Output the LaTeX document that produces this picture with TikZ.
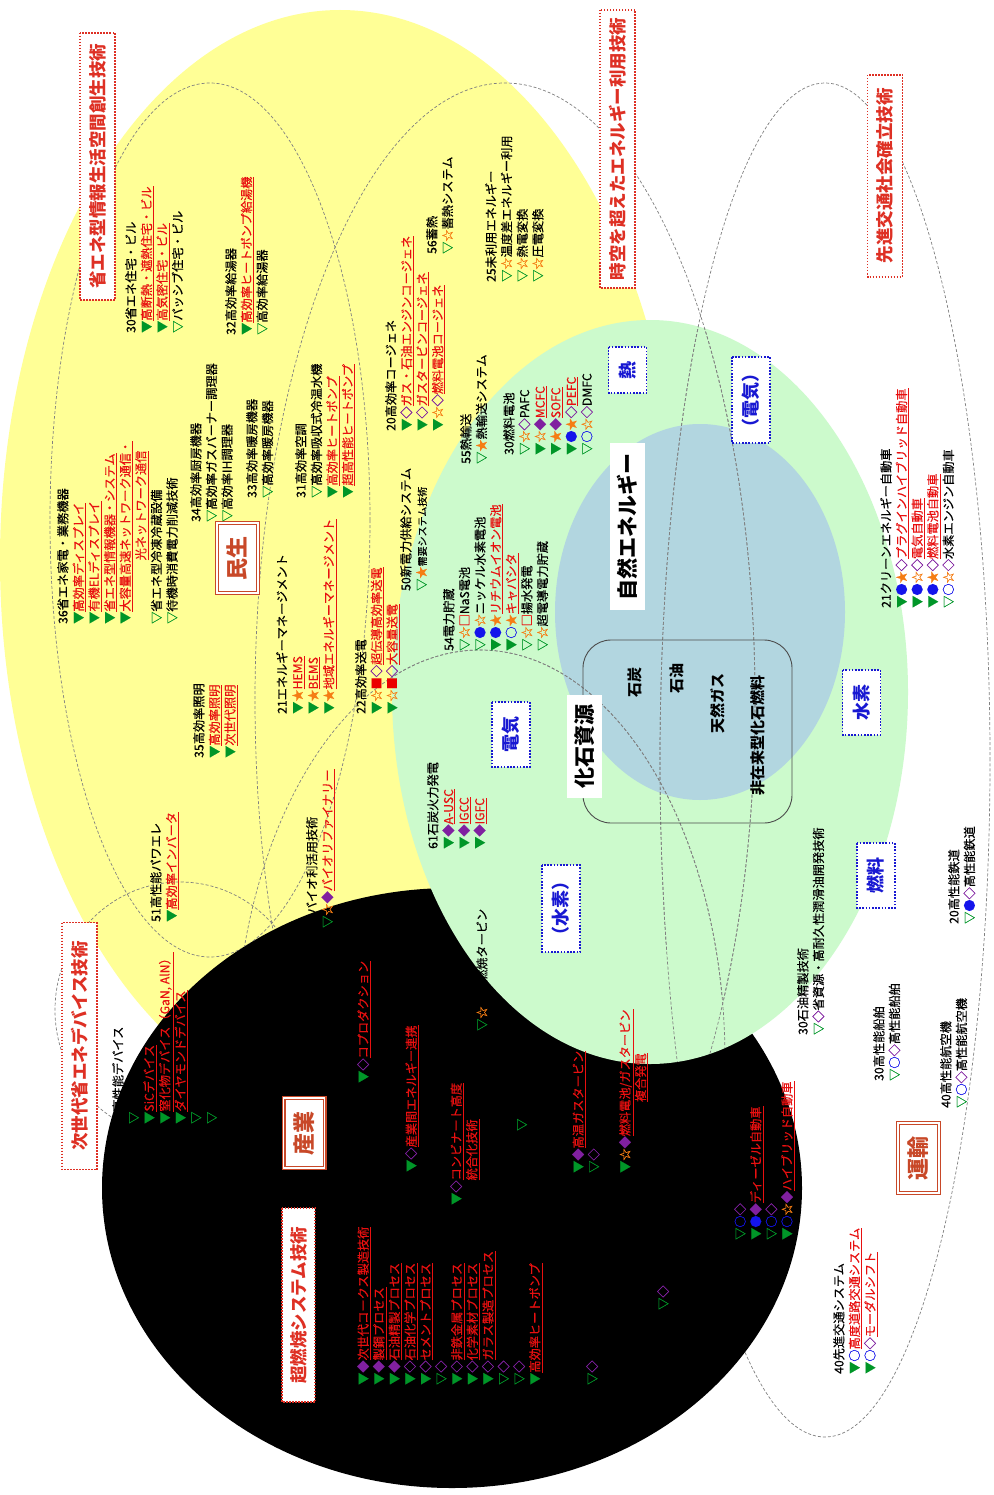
\documentclass[tikz,border=0pt]{standalone}
\usepackage{fontspec}
\setmainfont{Noto Sans CJK JP}[UprightFeatures={FakeBold=0.35}]
\definecolor{yellowbg}{RGB}{255,255,150}
\definecolor{greenbg}{RGB}{204,250,204}
\definecolor{bluebg}{RGB}{178,214,224}
\definecolor{symgreen}{RGB}{0,150,40}
\definecolor{sympurple}{RGB}{128,32,160}
\definecolor{symorange}{RGB}{245,125,20}
\definecolor{symblue}{RGB}{20,20,235}
\definecolor{symred}{RGB}{235,0,0}
\definecolor{itemred}{RGB}{232,16,16}
\definecolor{titlered}{RGB}{222,48,36}
\definecolor{secred}{RGB}{200,72,40}
\definecolor{boxblue}{RGB}{24,24,210}
\newcommand{\gA}{\textcolor{symgreen}{▼}}
\newcommand{\gV}{\textcolor{symgreen}{▽}}
\newcommand{\pA}{\textcolor{sympurple}{◆}}
\newcommand{\pV}{\textcolor{sympurple}{◇}}
\newcommand{\oA}{\textcolor{symorange}{★}}
\newcommand{\oV}{\textcolor{symorange}{☆}}
\newcommand{\bA}{\textcolor{symblue}{●}}
\newcommand{\bV}{\textcolor{symblue}{○}}
\newcommand{\rA}{\textcolor{symred}{■}}
\newcommand{\rV}{\textcolor{symred}{□}}
\newcommand{\rt}[1]{\textcolor{itemred}{\underline{#1}}}
\newcommand{\drawzones}{%
  \foreach \cx/\cy/\rx/\ry in {210/520/160/437, 505/700/250/617, 825/760/165/677,
                               180/1010/125/128, 480/1060/245/410}
    \draw[zone] (\cx,\cy) ellipse [x radius=\rx pt, y radius=\ry pt];}

\begin{document}
\begin{tikzpicture}[x=1pt, y=-1pt,
  grp/.style={rotate=90, anchor=north west, align=left, inner sep=0pt,
              font=\fontsize{12.2}{15.6}\selectfont},
  ttl/.style={rotate=90, draw=titlered, line width=1.5pt, dash pattern=on 1.5pt off 1.5pt,
              fill=white, text=titlered, inner sep=0pt, font=\fontsize{17.5}{17.5}\selectfont\bfseries},
  sec/.style={rotate=90, draw=secred, double=white, double distance=1.6pt, line width=1.2pt,
              fill=white, text=secred, minimum width=70pt, minimum height=41pt,
              font=\fontsize{22}{22}\selectfont\bfseries},
  kind/.style={rotate=90, draw=boxblue, line width=1.8pt, dash pattern=on 1.6pt off 1.6pt,
              fill=white, text=boxblue, minimum height=38pt, minimum width=65pt,
              font=\fontsize{18}{18}\selectfont\bfseries},
  core/.style={rotate=90, fill=white, minimum height=35pt, font=\fontsize{21}{21}\selectfont\bfseries},
  fuel/.style={rotate=90, inner sep=1pt, font=\fontsize{15}{15}\selectfont\bfseries},
  zone/.style={draw=black!50, line width=0.7pt, dash pattern=on 3pt off 2pt}
]
  \useasboundingbox (0,0) rectangle (993,1495);
  \clip (0,0) rectangle (993,1495);
  \fill[white] (0,0) rectangle (993,1495);
  \fill[yellowbg] (340,560) ellipse [x radius=340pt, y radius=550pt];
  \fill[black] (452,1188) ellipse [x radius=350pt, y radius=300pt];
  \fill[greenbg] (650,692) ellipse [x radius=258pt, y radius=372pt];
  \fill[bluebg] (700,612) ellipse [x radius=145pt, y radius=188pt];

  \begin{scope}
    \clip (650,692) ellipse [x radius=258pt, y radius=372pt];
    \drawzones
  \end{scope}
  \begin{scope}[even odd rule]
    \clip (0,0) rectangle (993,1495) (452,1188) ellipse [x radius=350pt, y radius=300pt];
    \drawzones
  \end{scope}

  \node[draw=black!70, line width=0.9pt, rounded corners=28pt, minimum width=209pt,
        minimum height=183pt] (fossilbox) at (687.5,731.5) {};

  \node[ttl, minimum width=267pt, minimum height=35pt] (tLife) at (97.5,166.5) {省エネ型情報生活空間創生技術};
  \node[ttl, minimum width=278pt, minimum height=35pt] (tHeat) at (617.5,149) {時空を超えたエネルギー利用技術};
  \node[ttl, minimum width=202pt, minimum height=35pt] (tTraffic) at (885,176) {先進交通社会確立技術};
  \node[ttl, minimum width=247pt, minimum height=35pt] (tDevice) at (79.5,1046) {次世代省エネデバイス技術};
  \node[ttl, minimum width=194pt, minimum height=33pt] (tCombust) at (298.5,1305) {超燃焼システム技術};

  \node[sec] (minsei) at (237.5,558) {民生};
  \node[sec] (sangyo) at (304,1133) {産業};
  \node[sec] (unyu) at (918.5,1158) {運輸};

  \node[kind, minimum width=46pt] (kHeat) at (627.5,370) {熱};
  \node[kind, minimum width=86pt] (kElec2) at (751,400) {（電気）};
  \node[kind] (kElec) at (511,734.5) {電気};
  \node[kind, minimum width=87pt] (kHyd2) at (561,908.5) {（水素）};
  \node[kind] (kHyd) at (861.5,702.5) {水素};
  \node[kind] (kFuel) at (876,875.5) {燃料};

  \node[core, minimum width=167pt] (natural) at (627.5,526.5) {自然エネルギー};
  \node[core, minimum width=103pt] (fossil) at (584.5,746.5) {化石資源};
  \node[fuel] (coal) at (635,682) {石炭};
  \node[fuel] (oil) at (677,678) {石油};
  \node[fuel] (gas) at (718,703) {天然ガス};
  \node[fuel] (unconv) at (758,735) {非在来型化石燃料};

  \node[grp] (g30bldg) at (125,333) {30省エネ住宅・ビル\\ \gA\rt{高断熱・遮熱住宅・ビル}\\
    \gA\rt{高気密住宅・ビル}\\ \gV パッシブ住宅・ビル};
  \node[grp] (g32) at (225,335) {32高効率給湯器\\ \gA\rt{高効率ヒートポンプ給湯機}\\ \gV 高効率給湯器};
  \node[grp] (g34) at (190,522) {34高効率厨房機器\\ \gV 高効率ガスバーナー調理器\\ \gV 高効率IH調理器};
  \node[grp] (g33) at (246,498) {33高効率暖房機器\\ \gV 高効率暖房機器};
  \node[grp] (g31) at (295,498) {31高効率空調\\ \gV 高効率吸収式冷温水機\\
    \gA\rt{高効率ヒートポンプ}\\ \gA\rt{超高性能ヒートポンプ}};
  \node[grp] (g36) at (57,624) {36省エネ家電・業務機器\\ \gA\rt{高効率ディスプレイ}\\
    \gA\rt{有機ELディスプレイ}\\ \gA\rt{省エネ型情報機器・システム}\\
    \gA\rt{大容量高速ネットワーク通信・}\\ \hspace*{5.2em}\rt{光ネットワーク通信}\\
    \gV 省エネ型冷凍冷蔵設備\\ \gV 待機時消費電力削減技術};
  \node[grp] (g35) at (193,758) {35高効率照明\\ \gA\rt{高効率照明}\\ \gA\rt{次世代照明}};
  \node[grp] (g21em) at (276,714) {21エネルギーマネージメント\\ \gA\oA\rt{HEMS}\\
    \gA\oA\rt{BEMS}\\ \gA\oA\rt{地域エネルギーマネージメント}};
  \node[grp] (g51) at (150,922) {51高性能パワエレ\\ \gA\rt{高効率インバータ}};
  \node[grp] (g70) at (306,928) {70バイオ利活用技術\\ \gV\oV\pA\rt{バイオリファイナリー}};
  \node[grp] (g22) at (355,714) {22高効率送電\\ \gA\oV\rA\pV\rt{超伝導高効率送電}\\
    \gA\oV\rA\pV\rt{大容量送電}};
  \node[grp] (g50) at (400,591) {50新電力供給システム\\
    \gV\oA{\fontsize{10}{12}\selectfont 需要システム技術}};
  \node[grp] (g20) at (385,431) {20高効率コージェネ\\ \gA\pV\rt{ガス・石油エンジンコージェネ}\\
    \gA\pV\rt{ガスタービンコージェネ}\\ \gA\oV\pV\rt{燃料電池コージェネ}};
  \node[grp] (g56) at (426,254) {56蓄熱\\ \gV\oV 蓄熱システム};
  \node[grp] (g25) at (485,282) {25未利用エネルギー\\ \gV\oV 温度差エネルギー利用\\
    \gV\oV 熱電変換\\ \gV\oV 圧電変換};
  \node[grp] (g55) at (460,464) {55熱輸送\\ \gV\oA 熱輸送システム};
  \node[grp] (g30fc) at (503,455) {30燃料電池\\ \gV\oV\pV PAFC\\ \gA\oV\pA\rt{MCFC}\\
    \gA\oA\pA\rt{SOFC}\\ \gA\bA\oA\pV\rt{PEFC}\\ \gV\bV\oV\pV DMFC};
  \node[grp] (g54) at (443,651) {54電力貯蔵\\ \gV\oV\rV NaS電池\\ \gV\bA\oV ニッケル水素電池\\
    \gA\bA\oA\rt{リチウムイオン電池}\\ \gA\bV\oA\rt{キャパシタ}\\ \gV\oV\rV 揚水発電\\
    \gV\oV 超電導電力貯蔵};
  \node[grp] (g61) at (427,849) {61石炭火力発電\\ \gA\pA\rt{A-USC}\\ \gA\pA\rt{IGCC}\\ \gA\pA\rt{IGFC}};
  \node[grp] (g21car) at (880,608) {21クリーンエネルギー自動車\\
    \gA\bA\oA\pV\rt{プラグインハイブリッド自動車}\\ \gA\bA\oV\pV\rt{電気自動車}\\
    \gA\bA\oA\pV\rt{燃料電池自動車}\\ \gV\bV\oV\pV 水素エンジン自動車};
  \node[grp] (g30oil) at (797,1035) {30石油精製技術\\ \gV\pV 省資源・高耐久性潤滑油開発技術};
  \node[grp] (g30ship) at (873,1081) {30高性能船舶\\ \gV\bV\pV 高性能船舶};
  \node[grp] (g40air) at (940,1108) {40高性能航空機\\ \gV\bV\pV 高性能航空機};
  \node[grp] (g20rail) at (948,924) {20高性能鉄道\\ \gV\bA\pV 高性能鉄道};
  \node[grp] (g40its) at (833,1374) {40先進交通システム\\ \gA\bV\rt{高度道路交通システム}\\
    \gA\bV\pV\rt{モーダルシフト}};

  \node[grp] (gdev) at (112,1124) {\hspace*{1em}高性能デバイス\\ \gV\\ \gA\rt{SiCデバイス}\\
    \gA\rt{窒化物デバイス（GaN, AlN）}\\ \gA\rt{ダイヤモンドデバイス}\\ \gV\\ \gV};
  \node[grp] (gcoprod) at (357,1083) {\gA\pV\rt{コプロダクション}};
  \node[grp] (glink) at (405,1172) {\gA\pV\rt{産業間エネルギー連携}};
  \node[grp] (gcomb) at (450,1205) {\gA\pV\rt{コンビナート高度}\\ \hspace*{2em}\rt{統合化技術}};
  \node[grp] (gmark1) at (517,1131) {\gV};
  \node[grp] (gturb) at (476,1031) {\gV\oV 水素燃焼タービン};
  \node[grp] (ggt) at (572,1173) {\gA\pA\rt{高温ガスタービン}\\ \gV\pV\\ \\
    \gA\oV\pA\rt{燃料電池/ガスタービン}\\ \hspace*{5.8em}\rt{複合発電}};
  \node[grp] (gproc) at (357,1385) {\gA\pA\rt{次世代コークス製造技術}\\ \gA\pA\rt{製鋼プロセス}\\
    \gA\pA\rt{石油精製プロセス}\\ \gA\pV\rt{石油化学プロセス}\\ \gA\pV\rt{セメントプロセス}\\
    \gV\pV\\ \gA\pV\rt{非鉄金属プロセス}\\ \gA\pV\rt{化学素材プロセス}\\
    \gA\pV\rt{ガラス製造プロセス}\\ \gV\pV\\ \gV\pV\\ \gA\rt{高効率ヒートポンプ}};
  \node[grp] (gmark2) at (586,1385) {\gV\pV};
  \node[grp] (gmark3) at (657,1310) {\gV\pV};
  \node[grp] (gcar) at (734,1240) {\gV\bV\pV\\ \gA\bA\pA\rt{ディーゼル自動車}\\ \gV\bV\pV\\
    \gA\bV\oV\pA\rt{ハイブリッド自動車}};
\end{tikzpicture}
\end{document}
